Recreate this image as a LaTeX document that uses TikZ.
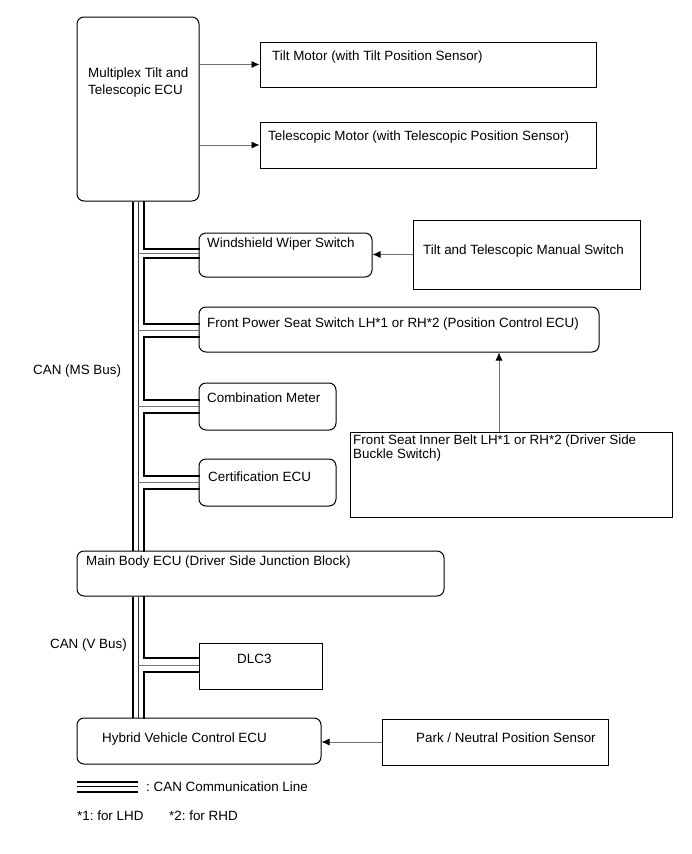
\documentclass[tikz,border=0pt]{standalone}
\usepackage{fontspec}
\setmainfont{Liberation Sans}
\usetikzlibrary{arrows.meta,calc}
\frenchspacing
\begin{document}
\begin{tikzpicture}[x=1pt,y=-1pt,
  rbox/.style={draw,line width=1pt,rounded corners=7pt,inner sep=0pt},
  sbox/.style={draw,line width=1pt,inner sep=0pt},
  txt/.style={font=\fontsize{13.4}{16}\selectfont,anchor=west,inner sep=0pt},
  arr/.style={draw=black!55,line width=0.8pt,-{Latex[length=8pt,width=7pt,black]}},
  canthick/.style={line width=2pt,line cap=rect},
  canthin/.style={line width=0.8pt,draw=black!55},
  trunkL/.style={line width=1.6pt},
  trunkM/.style={line width=1pt,draw=black!80}]
\useasboundingbox (0,0) rectangle (691,854);
% boxes
\node[rbox,minimum width=122pt,minimum height=184pt] (mpx) at (138,109) {};
\node[sbox,minimum width=336pt,minimum height=45pt] (tilt) at (428,64.5) {};
\node[sbox,minimum width=336pt,minimum height=46pt] (tele) at (428,145) {};
\node[rbox,minimum width=173pt,minimum height=44pt] (wiper) at (285.5,255) {};
\node[sbox,minimum width=227pt,minimum height=69pt] (manual) at (526.5,254.5) {};
\node[rbox,minimum width=400pt,minimum height=45pt] (fps) at (399,329.5) {};
\node[rbox,minimum width=137pt,minimum height=47pt] (comb) at (267.5,406.5) {};
\node[rbox,minimum width=137pt,minimum height=47pt] (cert) at (267.5,482.5) {};
\node[sbox,minimum width=322pt,minimum height=85pt] (belt) at (511,474.5) {};
\node[rbox,minimum width=367pt,minimum height=45pt] (mbe) at (260.5,573.5) {};
\node[sbox,minimum width=123pt,minimum height=46pt] (dlc) at (260.5,666) {};
\node[rbox,minimum width=244pt,minimum height=46pt] (hv) at (199,741) {};
\node[sbox,minimum width=226pt,minimum height=46pt] (park) at (495,742) {};
% texts
\node[txt] (tmpx1) at (88,74) {Multiplex Tilt and};
\node[txt] (tmpx2) at (88,91) {Telescopic ECU};
\node[txt] (ttilt) at (272,57) {Tilt Motor (with Tilt Position Sensor)};
\node[txt] (ttele) at (268,137) {Telescopic Motor (with Telescopic Position Sensor)};
\node[txt] (twiper) at (207,244) {Windshield Wiper Switch};
\node[txt] (tmanual) at (423,251) {Tilt and Telescopic Manual Switch};
\node[txt] (tfps) at (207,324) {Front Power Seat Switch LH*1 or RH*2 (Position Control ECU)};
\node[txt] (tcomb) at (207,398) {Combination Meter};
\node[txt] (tcert) at (208,477) {Certification ECU};
\node[txt] (tbelt1) at (353,441) {Front Seat Inner Belt LH*1 or RH*2 (Driver Side};
\node[txt] (tbelt2) at (353,455) {Buckle Switch)};
\node[txt] (tmbe) at (86,562) {Main Body ECU (Driver Side Junction Block)};
\node[txt] (tdlc) at (237,659) {DLC3};
\node[txt] (thv) at (102,739) {Hybrid Vehicle Control ECU};
\node[txt] (tpark) at (416,738) {Park / Neutral Position Sensor};
\node[txt] (tms) at (33,371) {CAN (MS Bus)};
\node[txt,anchor=east] (tv) at (127,645) {CAN (V Bus)};
\node[txt] (tleg) at (146,787) {: CAN Communication Line};
\node[txt] (tn1) at (77,816) {*1: for LHD};
\node[txt] (tn2) at (169,816) {*2: for RHD};
% arrows
\draw[arr] (mpx.east |- tilt.west) -- (tilt.west);
\draw[arr] (mpx.east |- tele.west) -- (tele.west);
\draw[arr] (manual.west) -- (manual.west -| wiper.east);
\draw[arr] (belt.north -| 499,0) -- (fps.south -| 499,0);
\draw[arr] (park.west) -- (park.west -| hv.east);
% bus coordinates
\coordinate (xL) at (133,0);
\coordinate (xM) at (138,0);
\coordinate (xR) at (144,0);
% upper trunk
\draw[trunkL] (xL |- mpx.south) -- (xL |- mbe.north);
\draw[trunkM] (xM |- mpx.south) -- (xM |- mbe.north);
\draw[canthick] (xR |- mpx.south) -- (144,249) -- (0,249 -| wiper.west);
\draw[canthick] (0,258 -| wiper.west) -- (144,258) -- (144,324) -- (0,324 -| fps.west);
\draw[canthick] (0,336.5 -| fps.west) -- (144,336.5) -- (144,399.5) -- (0,399.5 -| comb.west);
\draw[canthick] (0,413 -| comb.west) -- (144,413) -- (144,476) -- (0,476 -| cert.west);
\draw[canthick] (0,489 -| cert.west) -- (144,489) -- (xR |- mbe.north);
\draw[canthin] (138,253.5) -- (0,253.5 -| wiper.west);
\draw[canthin] (138,330) -- (0,330 -| fps.west);
\draw[canthin] (138,406.5) -- (0,406.5 -| comb.west);
\draw[canthin] (138,482.5) -- (0,482.5 -| cert.west);
% lower trunk
\draw[trunkL] (xL |- mbe.south) -- (xL |- hv.north);
\draw[trunkM] (xM |- mbe.south) -- (xM |- hv.north);
\draw[canthick] (xR |- mbe.south) -- (144,658) -- (0,658 -| dlc.west);
\draw[canthick] (0,672 -| dlc.west) -- (144,672) -- (xR |- hv.north);
\draw[canthin] (138,665.5) -- (0,665.5 -| dlc.west);
% legend
\coordinate (lg1) at (77,0);
\coordinate (lg2) at (138,0);
\draw[line width=2pt] (lg1 |- 0,782) -- (lg2 |- 0,782);
\draw[line width=0.8pt] (lg1 |- 0,786.5) -- (lg2 |- 0,786.5);
\draw[line width=2pt] (lg1 |- 0,791.5) -- (lg2 |- 0,791.5);
\end{tikzpicture}
\end{document}
